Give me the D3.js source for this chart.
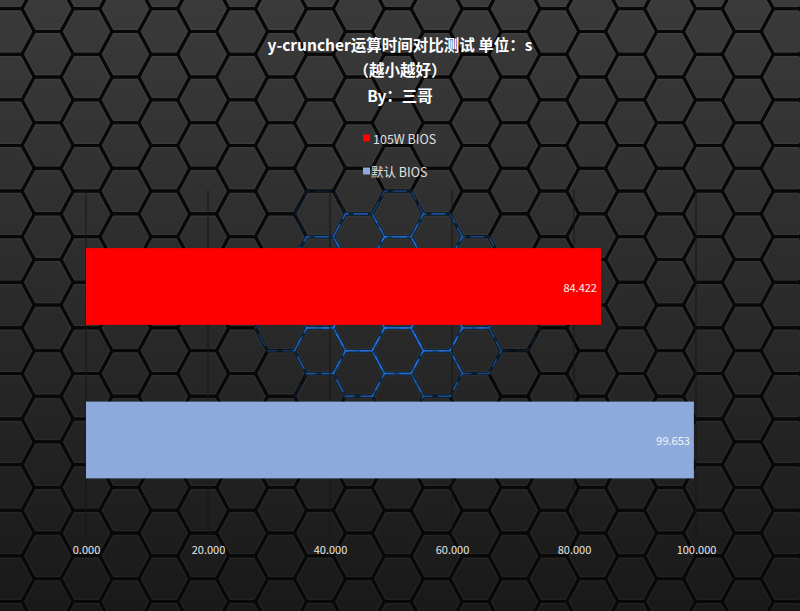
<!DOCTYPE html>
<html>
<head>
<meta charset="utf-8">
<script src="https://cdn.jsdelivr.net/npm/d3@7"></script>
<style>
  html, body { margin: 0; padding: 0; background: #111; }
  svg { display: block; }
  text { font-family: "Noto Sans CJK SC", "Noto Sans", sans-serif; }
</style>
</head>
<body>
<svg id="chart" width="800" height="611"></svg>
<script>
// ---- data ----
const titleLines = ["y-cruncher运算时间对比测试 单位：s", "（越小越好）", "By：三哥"];
const categories = ["105W BIOS", "默认 BIOS"];
const values = [84.422, 99.653];
const tickValues = [0, 20, 40, 60, 80, 100];
const seriesColors = ["#ff0000", "#8eaadc"];

const W = 800, H = 611;
const svg = d3.select("#chart");
const defs = svg.append("defs");

// ---- background: hexagon tiles ----
const grad = defs.append("linearGradient").attr("id", "bgGrad")
  .attr("gradientUnits", "userSpaceOnUse").attr("x1", 0).attr("y1", 0).attr("x2", 0).attr("y2", H);
grad.append("stop").attr("offset", "0%").attr("stop-color", "#3a3a3a");
grad.append("stop").attr("offset", "45%").attr("stop-color", "#2c2c2c");
grad.append("stop").attr("offset", "100%").attr("stop-color", "#191919");

svg.append("rect").attr("width", W).attr("height", H).attr("fill", "#0b0b0b");

const hexD = 38.9, hexRy = 22.8, hexRx = 25.6, hexA = hexD - hexRx;
const hexPts = [[-hexRx,0],[-hexA,-hexRy],[hexA,-hexRy],[hexRx,0],[hexA,hexRy],[-hexA,hexRy]];
const hexes = [];
for (let j = -2; j <= 22; j++) {
  const cx = 47.7 + hexD * j;
  const off = (Math.abs(j) % 2 === 1) ? hexRy : 0;
  for (let n = -8; n <= 10; n++) {
    const cy = 236.7 + 2 * hexRy * n + off;
    if (cx < -40 || cx > W + 40 || cy < -40 || cy > H + 40) continue;
    hexes.push({cx, cy});
  }
}
const line = d3.line().curve(d3.curveLinearClosed);
const bg = svg.append("g");
bg.selectAll("path.hex").data(hexes).join("path")
  .attr("class", "hex")
  .attr("d", d => line(hexPts.map(p => [d.cx + p[0], d.cy + p[1]])))
  .attr("fill", "url(#bgGrad)")
  .attr("stroke", "#080808")
  .attr("stroke-width", 3.2)
  .attr("stroke-linejoin", "round");
// subtle bevel highlight
bg.selectAll("path.bevel").data(hexes).join("path")
  .attr("class", "bevel")
  .attr("d", d => line(hexPts.map(p => [d.cx + p[0]*0.9, d.cy + p[1]*0.9])))
  .attr("fill", "none")
  .attr("stroke", "rgba(255,255,255,0.035)")
  .attr("stroke-width", 1.5);

// blue glow around centre
const glowC = [390, 305], glowR = [135, 115];
const glowHex = hexes.map(d => {
  const dx = (d.cx - glowC[0]) / glowR[0], dy = (d.cy - glowC[1]) / glowR[1];
  return {...d, a: Math.max(0, 1 - (dx*dx + dy*dy))};
}).filter(d => d.a > 0.05);
bg.selectAll("path.glowH").data(glowHex).join("path")
  .attr("d", d => line(hexPts.map(p => [d.cx + p[0], d.cy + p[1]])))
  .attr("fill", "none")
  .attr("stroke", "#0f2c44")
  .attr("stroke-width", 3.6)
  .attr("stroke-opacity", d => Math.min(0.9, d.a * 1.2));
bg.selectAll("path.glow").data(glowHex).join("path")
  .attr("d", d => line(hexPts.map(p => [d.cx + p[0], d.cy + p[1]])))
  .attr("fill", "none")
  .attr("stroke", "#2a72e0")
  .attr("stroke-width", 1.6)
  .attr("stroke-dasharray", "14 6 9 5")
  .attr("stroke-opacity", d => Math.min(0.85, d.a * 1.1));

// ---- scales ----
const x = d3.scaleLinear().domain([0, 100]).range([86, 696]);
const y = d3.scaleBand().domain(categories).range([209.75, 516.75]).paddingInner(0.5).paddingOuter(0.25);
const plotTop = 190, plotBottom = 537;

// gridlines
svg.append("g").selectAll("line").data(tickValues).join("line")
  .attr("x1", d => x(d)).attr("x2", d => x(d))
  .attr("y1", plotTop).attr("y2", plotBottom)
  .attr("stroke", "#161616").attr("stroke-width", 1);

// bars
const rows = categories.map((c, i) => ({c, v: values[i], color: seriesColors[i]}));
svg.append("g").selectAll("rect").data(rows).join("rect")
  .attr("x", x(0)).attr("y", d => y(d.c))
  .attr("width", d => x(d.v) - x(0)).attr("height", y.bandwidth())
  .attr("fill", d => d.color);

// value labels
svg.append("g").selectAll("text").data(rows).join("text")
  .attr("x", d => x(d.v) - 4).attr("y", d => y(d.c) + y.bandwidth() / 2)
  .attr("text-anchor", "end").attr("dominant-baseline", "central")
  .attr("font-size", 11).attr("fill", "#f4f4f4")
  .text(d => d3.format(".3f")(d.v));

// x axis labels
const axis = d3.axisBottom(x).tickValues(tickValues).tickSize(0).tickPadding(0).tickFormat(d3.format(".3f"));
const ax = svg.append("g").attr("transform", `translate(0,${plotBottom + 9})`).call(axis);
ax.select(".domain").remove();
ax.selectAll("text").attr("font-size", 11).attr("fill", "#e6e6e6")
  .style("font-family", "\"Noto Sans CJK SC\", \"Noto Sans\", sans-serif");

// title
svg.append("g").selectAll("text").data(titleLines).join("text")
  .attr("x", 400).attr("y", (d, i) => [44, 69, 95][i])
  .attr("text-anchor", "middle").attr("dominant-baseline", "central")
  .attr("font-size", 15.5).attr("font-weight", "bold").attr("fill", "#ffffff")
  .text(d => d);

// legend
const leg = svg.append("g").selectAll("g").data(rows).join("g")
  .attr("transform", (d, i) => `translate(363,${[138, 171][i]})`);
leg.append("rect").attr("x", 0).attr("y", -3.5).attr("width", 7).attr("height", 7)
  .attr("fill", d => d.color);
leg.append("text").attr("x", (d, i) => i === 0 ? 10 : 8).attr("y", 0)
  .attr("dominant-baseline", "central").attr("font-size", 12.5).attr("fill", "#e0e0e0")
  .text(d => d.c);
</script>
</body>
</html>
